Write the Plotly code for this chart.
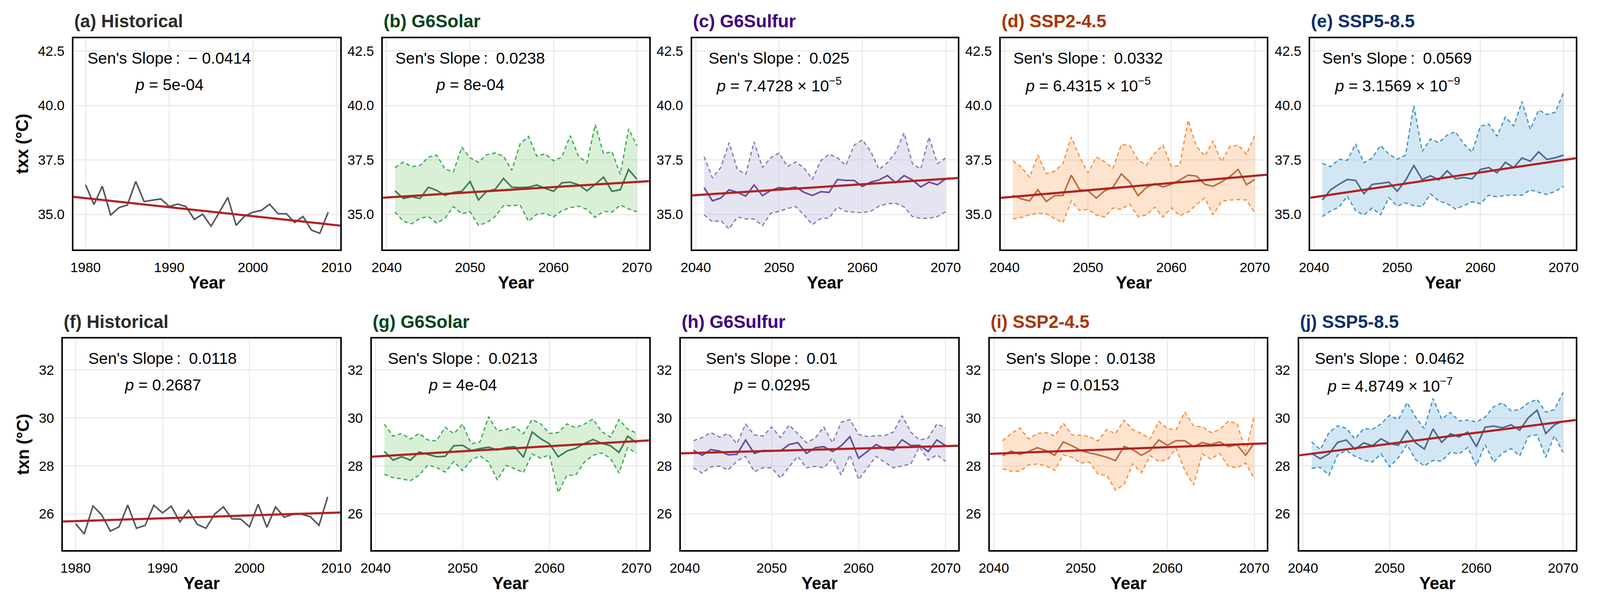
import plotly.graph_objects as go

years_hist = list(range(1980, 2010))
years_future = list(range(2041, 2071))

# txx (top row)
txx_hist = [36.36, 35.45, 36.29, 34.97, 35.31, 35.43, 36.51, 35.59, 35.65, 35.71,
            35.36, 35.47, 35.36, 34.77, 35.01, 34.46, 35.10, 35.78, 34.50, 34.92,
            35.10, 35.18, 35.47, 35.03, 35.03, 34.63, 34.90, 34.28, 34.13, 35.10]

txx_solar_mean = [36.08, 35.73, 35.81, 35.73, 36.25, 36.10, 35.87, 36.01, 36.06, 36.51,
                  35.66, 36.06, 36.15, 36.65, 36.25, 36.23, 36.25, 36.35, 36.19, 36.06,
                  36.45, 36.48, 36.36, 36.08, 36.38, 36.71, 36.06, 36.13, 37.06, 36.61]
txx_solar_upper = [37.15, 37.40, 37.19, 37.24, 37.63, 37.72, 37.08, 36.95, 38.09, 37.59,
                   37.39, 37.74, 37.82, 37.67, 37.02, 38.24, 38.58, 37.67, 37.78, 37.46,
                   37.63, 38.61, 37.67, 37.37, 39.12, 37.78, 37.88, 36.84, 38.92, 38.16]
txx_solar_lower = [35.11, 34.68, 34.57, 34.82, 34.90, 34.60, 34.83, 35.36, 35.03, 35.12,
                   34.50, 34.62, 34.90, 35.40, 35.40, 35.43, 34.68, 35.01, 35.05, 34.88,
                   35.17, 35.31, 35.38, 35.23, 34.86, 35.14, 35.10, 35.43, 35.25, 35.12]

txx_sulfur_mean = [36.23, 35.62, 35.75, 36.13, 36.01, 35.84, 36.35, 35.86, 36.10, 36.23,
                   36.19, 36.25, 36.01, 35.87, 36.04, 36.01, 36.60, 36.56, 36.56, 36.28,
                   36.48, 36.58, 36.78, 36.45, 36.78, 36.58, 36.26, 36.48, 36.36, 36.63]
txx_sulfur_upper = [37.65, 36.67, 37.15, 38.29, 37.06, 36.84, 38.33, 37.15, 37.60, 37.81,
                    37.19, 37.41, 37.13, 36.61, 37.46, 37.76, 37.60, 37.24, 38.17, 38.42,
                    37.89, 37.06, 37.37, 37.85, 38.74, 37.33, 37.08, 38.55, 37.33, 37.59]
txx_sulfur_lower = [34.98, 34.66, 34.72, 34.33, 34.88, 34.79, 34.79, 34.48, 35.05, 35.14,
                    35.27, 35.36, 34.97, 34.53, 34.81, 34.83, 35.34, 35.14, 35.10, 35.08,
                    35.14, 35.38, 35.49, 35.51, 35.34, 34.90, 34.82, 34.82, 34.90, 35.12]

txx_ssp245_mean = [35.88, 35.71, 35.62, 36.13, 35.59, 35.86, 35.87, 36.80, 36.13, 36.08,
                   35.75, 36.08, 36.25, 36.86, 36.49, 35.86, 36.23, 36.41, 36.26, 36.38,
                   36.58, 36.80, 36.76, 36.38, 36.29, 36.49, 36.73, 37.06, 36.36, 36.60]
txx_ssp245_upper = [37.46, 37.17, 36.71, 37.72, 36.87, 36.98, 37.33, 38.55, 37.63, 36.91,
                    37.63, 37.41, 37.11, 38.20, 38.16, 37.50, 37.26, 37.81, 38.18, 37.19,
                    37.24, 39.32, 38.13, 37.67, 38.37, 37.41, 38.11, 38.18, 37.76, 38.62]
txx_ssp245_lower = [34.79, 34.86, 34.98, 35.05, 35.03, 34.81, 34.62, 35.62, 35.18, 35.23,
                    34.97, 34.88, 35.29, 35.23, 35.47, 34.90, 34.97, 35.33, 34.88, 35.30,
                    34.94, 35.10, 35.45, 35.75, 34.98, 35.59, 35.66, 35.68, 35.66, 35.07]

txx_ssp585_mean = [35.66, 36.13, 36.38, 36.60, 36.56, 35.95, 36.38, 36.42, 36.48, 36.06,
                   36.56, 37.24, 36.60, 36.77, 36.58, 37.00, 36.63, 36.69, 36.63, 37.06,
                   37.15, 36.91, 37.39, 37.15, 37.59, 37.44, 37.87, 37.52, 37.60, 37.72]
txx_ssp585_upper = [37.34, 37.19, 37.53, 37.48, 38.23, 37.37, 37.59, 38.16, 37.76, 37.53,
                    37.72, 39.99, 37.89, 38.46, 38.29, 38.64, 38.79, 38.24, 37.85, 39.05,
                    39.14, 38.59, 39.47, 39.06, 40.18, 38.90, 39.79, 39.58, 39.69, 40.60]
txx_ssp585_lower = [34.90, 35.16, 35.33, 35.84, 35.17, 34.97, 35.29, 34.98, 35.77, 35.38,
                    35.53, 35.40, 35.36, 35.94, 35.62, 35.49, 35.25, 35.40, 35.58, 35.49,
                    35.88, 35.80, 35.88, 35.88, 35.88, 36.13, 36.01, 35.91, 36.06, 36.29]

# txn (bottom row)
txn_hist = [25.59, 25.16, 26.33, 25.96, 25.28, 25.46, 26.37, 25.40, 25.52, 26.36,
            26.04, 26.32, 25.67, 26.15, 25.56, 25.40, 25.99, 26.29, 25.79, 25.78,
            25.46, 26.40, 25.44, 26.29, 25.86, 25.98, 25.99, 25.88, 25.52, 26.71]

txn_solar_mean = [28.60, 28.24, 28.38, 28.24, 28.58, 28.48, 28.38, 28.40, 28.84, 28.86,
                  28.64, 28.72, 28.78, 28.66, 28.77, 28.80, 28.36, 29.41, 29.13, 28.92,
                  28.38, 28.62, 28.73, 28.93, 29.10, 28.94, 28.84, 28.56, 29.24, 28.96]
txn_solar_upper = [29.74, 29.24, 29.35, 29.12, 29.35, 29.08, 29.04, 29.61, 29.34, 29.74,
                   28.92, 29.00, 30.05, 29.45, 29.51, 29.63, 29.34, 29.93, 29.75, 29.35,
                   29.39, 29.75, 29.59, 29.74, 29.95, 29.43, 29.20, 29.93, 29.53, 29.37]
txn_solar_lower = [27.65, 27.51, 27.46, 27.38, 27.62, 28.03, 27.94, 27.74, 28.18, 27.80,
                   28.24, 28.42, 28.15, 27.41, 28.02, 27.88, 27.72, 28.50, 28.32, 28.46,
                   26.89, 27.61, 27.61, 28.15, 28.44, 28.54, 28.32, 27.70, 28.76, 28.52]

txn_sulfur_mean = [28.65, 28.44, 28.68, 28.62, 28.46, 28.48, 29.08, 28.52, 28.64, 28.64,
                   28.62, 28.89, 28.97, 28.52, 28.76, 28.80, 28.60, 28.84, 29.22, 28.32,
                   28.60, 28.89, 28.72, 28.66, 29.09, 28.85, 28.86, 28.60, 29.08, 28.84]
txn_sulfur_upper = [29.05, 29.18, 29.39, 29.20, 29.35, 28.93, 29.74, 29.29, 29.24, 29.62,
                    29.18, 29.70, 29.35, 28.96, 29.16, 29.62, 28.96, 29.82, 29.93, 29.31,
                    29.22, 29.26, 29.26, 29.41, 30.09, 29.41, 29.08, 29.16, 29.75, 29.59]
txn_sulfur_lower = [27.92, 27.70, 27.96, 27.99, 27.83, 28.20, 28.40, 27.76, 27.92, 27.92,
                    27.49, 27.96, 28.40, 27.92, 27.98, 27.92, 28.32, 27.62, 28.46, 27.43,
                    27.91, 28.40, 28.15, 27.92, 28.00, 28.08, 28.80, 28.24, 28.46, 28.19]

txn_ssp245_mean = [28.42, 28.62, 28.48, 28.60, 28.76, 28.64, 28.44, 29.00, 28.84, 28.64,
                   28.54, 28.46, 28.36, 28.22, 28.81, 28.68, 28.44, 28.64, 29.08, 28.86,
                   29.05, 29.05, 28.80, 28.97, 28.89, 29.00, 28.80, 28.88, 28.44, 28.96]
txn_ssp245_upper = [29.05, 29.35, 29.58, 29.12, 29.35, 29.39, 29.24, 29.78, 29.29, 29.28,
                    29.22, 29.04, 29.51, 29.34, 29.90, 29.51, 29.35, 29.13, 29.85, 29.55,
                    29.51, 30.24, 29.66, 29.63, 29.39, 29.51, 29.85, 29.78, 28.60, 30.09]
txn_ssp245_lower = [27.88, 27.78, 27.78, 28.04, 28.08, 28.00, 27.82, 28.46, 28.36, 28.12,
                    28.16, 27.65, 27.61, 26.99, 27.22, 28.08, 27.72, 28.42, 28.19, 28.26,
                    28.73, 27.80, 27.21, 28.50, 28.28, 28.52, 27.99, 27.92, 28.12, 27.46]

txn_ssp585_mean = [28.52, 28.30, 28.50, 28.98, 29.08, 28.69, 28.96, 28.84, 29.13, 28.93,
                   28.86, 29.47, 28.96, 28.70, 29.54, 28.98, 29.34, 29.21, 29.41, 28.80,
                   29.61, 29.66, 29.59, 29.71, 29.49, 30.01, 30.32, 29.35, 29.71, 29.87]
txn_ssp585_upper = [29.00, 28.68, 29.39, 29.67, 29.57, 29.12, 29.55, 29.53, 29.75, 30.11,
                    29.93, 30.64, 30.03, 29.55, 30.81, 29.95, 30.23, 29.87, 29.91, 29.83,
                    30.03, 30.47, 30.63, 30.29, 30.35, 30.63, 30.77, 30.24, 30.35, 31.06]
txn_ssp585_lower = [27.90, 27.94, 27.61, 28.46, 28.64, 28.40, 28.24, 28.16, 28.50, 27.96,
                    28.34, 28.88, 28.26, 28.00, 28.23, 28.20, 28.58, 28.50, 28.77, 28.00,
                    28.88, 28.16, 28.54, 28.72, 28.42, 29.24, 29.29, 28.36, 29.26, 28.56]

scenarios = ['Historical', 'G6Solar', 'G6Sulfur', 'SSP2-4.5', 'SSP5-8.5']
letters = ['a', 'b', 'c', 'd', 'e', 'f', 'g', 'h', 'i', 'j']
sens_slope = [-0.0414, 0.0238, 0.025, 0.0332, 0.0569,
              0.0118, 0.0213, 0.01, 0.0138, 0.0462]
sens_label = ['\u2212 0.0414', '0.0238', '0.025', '0.0332', '0.0569',
              '0.0118', '0.0213', '0.01', '0.0138', '0.0462']
p_label = ['5e-04', '8e-04', '7.4728 \u00d7 10<sup>\u22125</sup>',
           '6.4315 \u00d7 10<sup>\u22125</sup>', '3.1569 \u00d7 10<sup>\u22129</sup>',
           '0.2687', '4e-04', '0.0295', '0.0153', '4.8749 \u00d7 10<sup>\u22127</sup>']
# trend value at the middle of each period
trend_mid = [35.145, 36.145, 36.27, 36.29, 36.67,
             25.87, 28.725, 28.68, 28.72, 29.175]

title_colors = ['#2b2b2b', '#00441b', '#3f007d', '#a63603', '#08306b']
mean_colors = ['#575757', '#3f7a55', '#6e46a6', '#c06a3d', '#4a6896']
band_colors = [None, 'rgba(161,217,155,0.4)', 'rgba(188,189,220,0.4)',
               'rgba(253,174,107,0.33)', 'rgba(107,174,214,0.3)']
dash_colors = [None, '#3aaa5a', '#807dba', '#fd8d3c', '#4292c6']

FONT = 'Liberation Sans, Arial, sans-serif'
W, H = 4368, 1524

top_x = [(172, 911), (1029, 1766), (1885, 2621), (2740, 3477), (3597, 4332)]
bot_x = [(143, 911), (998, 1766), (1854, 2622), (2710, 3477), (3566, 4332)]
top_y = (97.5, 639)
bot_y = (867, 1409)

rows = [
    (txx_hist, [(txx_solar_mean, txx_solar_upper, txx_solar_lower),
                (txx_sulfur_mean, txx_sulfur_upper, txx_sulfur_lower),
                (txx_ssp245_mean, txx_ssp245_upper, txx_ssp245_lower),
                (txx_ssp585_mean, txx_ssp585_upper, txx_ssp585_lower)]),
    (txn_hist, [(txn_solar_mean, txn_solar_upper, txn_solar_lower),
                (txn_sulfur_mean, txn_sulfur_upper, txn_sulfur_lower),
                (txn_ssp245_mean, txn_ssp245_upper, txn_ssp245_lower),
                (txn_ssp585_mean, txn_ssp585_upper, txn_ssp585_lower)]),
]


def x_range(years):
    span = years[-1] - years[0]
    return [years[0] - 0.05 * span, years[-1] + 0.05 * span]


traces = []
layout = go.Layout(
    width=W, height=H,
    margin=dict(l=0, r=0, t=0, b=0),
    paper_bgcolor='white',
    plot_bgcolor='white',
    showlegend=False,
    font=dict(family=FONT, color='black'),
)
annotations = []

for r, (hist, futures) in enumerate(rows):
    for c in range(5):
        k = r * 5 + c
        ax = '' if k == 0 else str(k + 1)
        xa, ya = 'x' + ax, 'y' + ax
        years = years_hist if c == 0 else years_future

        if c == 0:
            traces.append(go.Scatter(
                x=years, y=hist, mode='lines',
                line=dict(color=mean_colors[0], width=4),
                xaxis=xa, yaxis=ya))
        else:
            mean, upper, lower = futures[c - 1]
            traces.append(go.Scatter(
                x=years, y=upper, mode='lines',
                line=dict(color=dash_colors[c], width=3.2, dash='10px,7px'),
                xaxis=xa, yaxis=ya))
            traces.append(go.Scatter(
                x=years, y=lower, mode='lines', fill='tonexty',
                fillcolor=band_colors[c],
                line=dict(color=dash_colors[c], width=3.2, dash='10px,7px'),
                xaxis=xa, yaxis=ya))
            traces.append(go.Scatter(
                x=years, y=mean, mode='lines',
                line=dict(color=mean_colors[c], width=4),
                xaxis=xa, yaxis=ya))

        # Sen's slope trend line across the full panel width
        xr = x_range(years)
        mid_year = (years[0] + years[-1]) / 2
        traces.append(go.Scatter(
            x=xr,
            y=[trend_mid[k] + sens_slope[k] * (v - mid_year) for v in xr],
            mode='lines',
            line=dict(color='#b22222', width=5.5),
            xaxis=xa, yaxis=ya))

        px = top_x[c] if r == 0 else bot_x[c]
        py = top_y if r == 0 else bot_y
        xdom = [px[0] / W, px[1] / W]
        ydom = [1 - py[1] / H, 1 - py[0] / H]

        if r == 0:
            yr, ytv = [33.39, 43.09], [35, 37.5, 40, 42.5]
            ytt = ['35.0', '37.5', '40.0', '42.5']
            ytitle = 'txx (°C)'
        else:
            yr, ytv = [24.49, 33.31], [26, 28, 30, 32]
            ytt = ['26', '28', '30', '32']
            ytitle = 'txn (°C)'

        layout['xaxis' + ax] = dict(
            domain=xdom, anchor=ya, range=xr,
            tickvals=[years[0] // 10 * 10 + 10 * i for i in range(4)],
            showgrid=True, gridcolor='#ebebeb', gridwidth=2.5,
            zeroline=False, showline=True, linecolor='black', linewidth=3.5,
            mirror=True, ticks='', ticklabelstandoff=12,
            tickfont=dict(size=35, color='black'),
            title=dict(text='<b>Year</b>', font=dict(size=44), standoff=6),
        )
        yaxis = dict(
            domain=ydom, anchor=xa, range=yr,
            tickvals=ytv, ticktext=ytt,
            showgrid=True, gridcolor='#ebebeb', gridwidth=2.5,
            zeroline=False, showline=True, linecolor='black', linewidth=3.5,
            mirror=True, ticks='', ticklabelstandoff=12,
            tickfont=dict(size=35, color='black'),
        )
        if c == 0:
            yaxis['title'] = dict(text='<b>' + ytitle + '</b>',
                                  font=dict(size=44), standoff=12)
        layout['yaxis' + ax] = yaxis

        annotations.append(dict(
            xref='paper', yref='paper', x=xdom[0], y=1 - (py[0] - 43) / H,
            xanchor='left', yanchor='middle', showarrow=False,
            text='<b>(' + letters[k] + ') ' + scenarios[c] + '</b>',
            font=dict(size=46, color=title_colors[c])))
        annotations.append(dict(
            xref=xa, yref=ya + ' domain', x=years[0] + 10 - (years[0] % 10), y=0.905,
            xanchor='center', yanchor='middle', showarrow=False,
            text="Sen's Slope\u2009:\u2002" + sens_label[k],
            font=dict(size=41, color='black')))
        annotations.append(dict(
            xref=xa, yref=ya + ' domain', x=years[0] + 10 - (years[0] % 10), y=0.78,
            xanchor='center', yanchor='middle', showarrow=False,
            text='<i>p</i> = ' + p_label[k],
            font=dict(size=41, color='black')))

layout['annotations'] = annotations

fig = go.Figure(data=traces, layout=layout)

# the page may open in a viewport narrower than 4368 px: size the figure to it
fit_js = """
document.body.style.margin = '0';
document.body.style.overflow = 'hidden';
var gd = document.getElementById('{plot_id}');
Plotly.relayout(gd, {width: window.innerWidth, height: window.innerHeight});
"""
fig.write_html('out.html', config={'displayModeBar': False}, post_script=fit_js)
